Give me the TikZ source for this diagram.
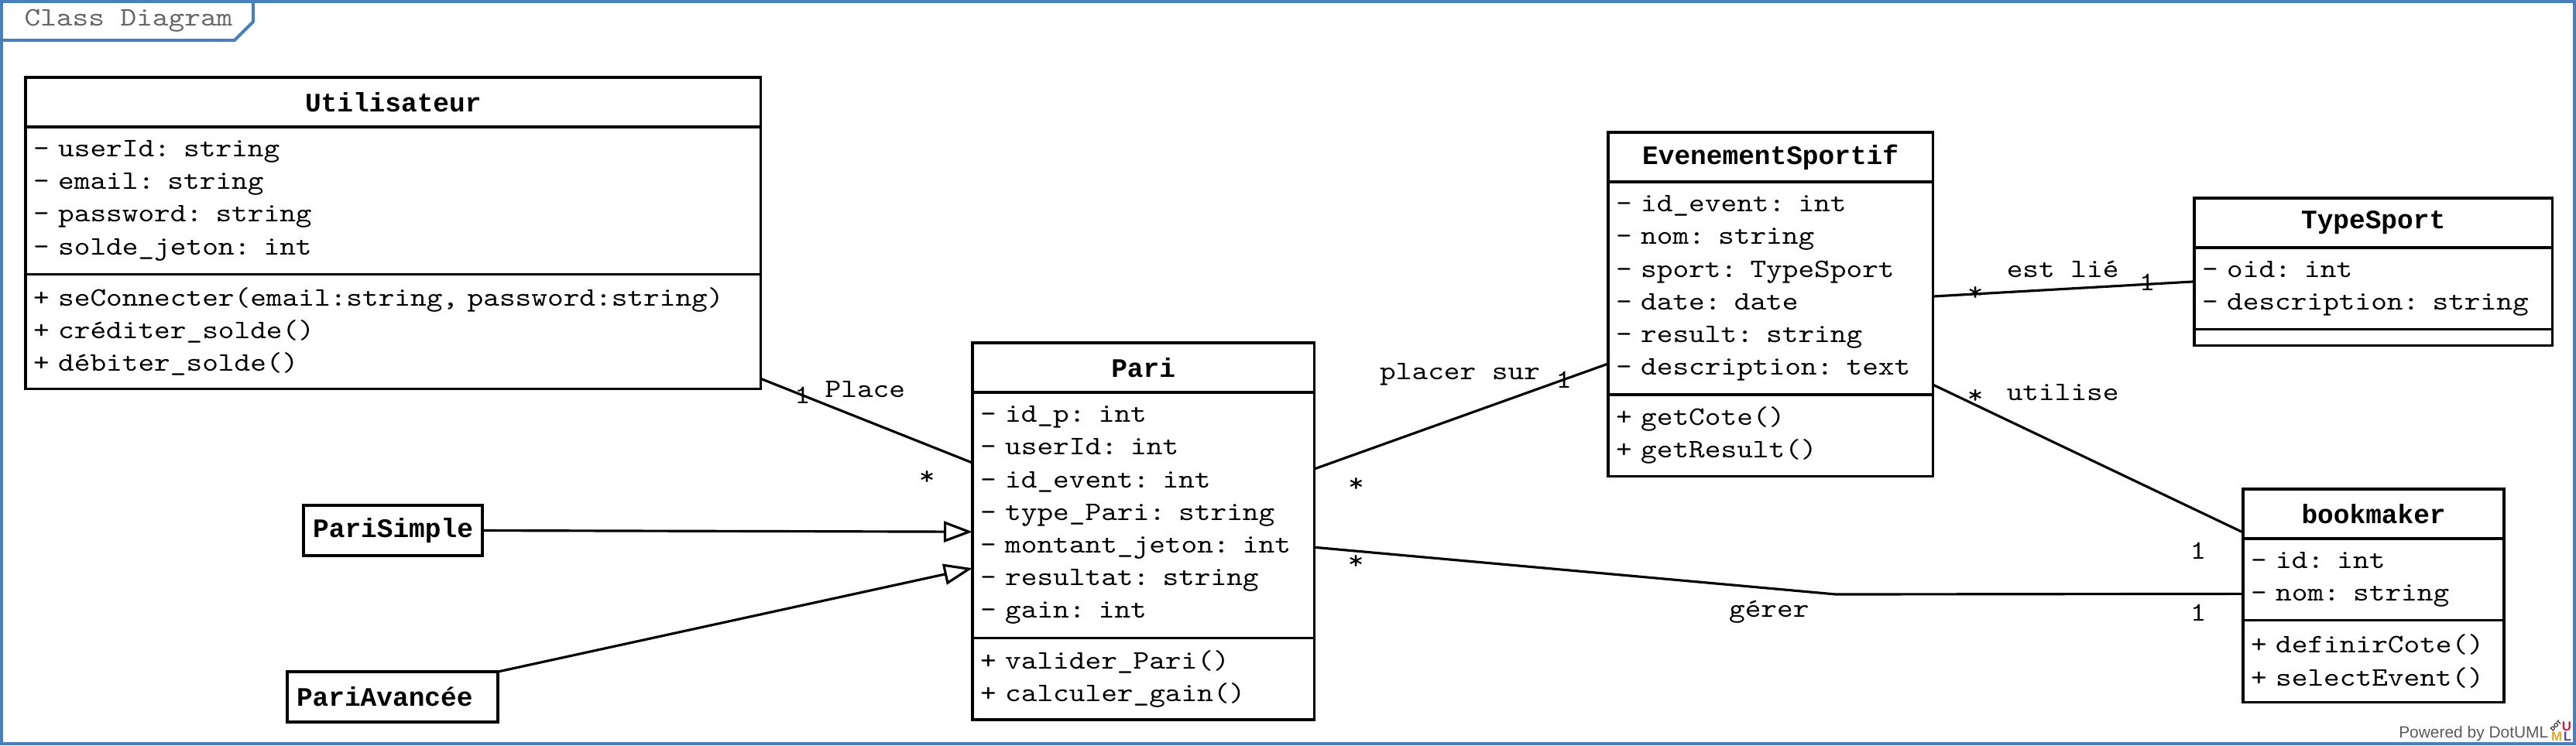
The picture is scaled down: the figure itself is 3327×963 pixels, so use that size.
\documentclass[tikz,border=0pt]{standalone}
\usepackage{fontspec}
\usepackage{xcolor}
\usepackage{tikz}
\usetikzlibrary{positioning, arrows.meta}

\newfontfamily\umlmono[FakeStretch=1.143]{lmmono10-regular.otf}
\newfontfamily\umlbold{Liberation Mono}
\newfontfamily\umlsans{Liberation Sans}
\definecolor{frameblue}{RGB}{74,128,186}

\begin{document}
\begin{tikzpicture}[
    x=0.01cm, y=-0.01cm,
    classhead/.style={draw, line width=1pt, outer sep=0pt, inner sep=0pt, minimum height=0.64cm, font=\umlbold\bfseries\fontsize{9.8}{12}\selectfont},
    classbody/.style={draw, line width=1pt, outer sep=0pt, inner xsep=0.1cm, inner ysep=0pt, align=left, font=\umlmono\fontsize{9.8}{12}\selectfont},
    assoc/.style={line width=0.9pt},
    inherit/.style={line width=0.9pt, -{Triangle[open, length=0.37cm, width=0.27cm]}},
    lbl/.style={inner sep=0pt, font=\umlmono\fontsize{9.8}{12}\selectfont},
    frame/.style={draw=frameblue, line width=0.04cm}
]
\useasboundingbox (0,0) rectangle (3327,963);

% Frame
\draw[frame] (2,2) rectangle (3325,961);
\draw[frame] (2,52) -- (303,52) -- (327,28) -- (327,2);
\node[lbl, text=black!60] (frame-title) at (166,27) {Class Diagram};

% Classes
\node[classhead, anchor=north west, minimum width=9.49cm] (util-h) at (33,100) {Utilisateur};
\node[classbody, below=0pt of util-h, text width=9.29cm, minimum height=1.902cm] (util-a) {- userId: string\\- email: string\\- password: string\\- solde\_jeton: int};
\node[classbody, below=0pt of util-a, text width=9.29cm, minimum height=1.479cm] (util-m) {+ seConnecter(email:string, password:string)\\+ créditer\_solde()\\+ débiter\_solde()};

\node[classhead, anchor=north west, minimum width=4.41cm] (pari-h) at (1256,443) {Pari};
\node[classbody, below=0pt of pari-h, text width=4.21cm, minimum height=3.171cm] (pari-a) {- id\_p: int\\- userId: int\\- id\_event: int\\- type\_Pari: string\\- montant\_jeton: int\\- resultat: string\\- gain: int};
\node[classbody, below=0pt of pari-a, text width=4.21cm, minimum height=1.056cm] (pari-m) {+ valider\_Pari()\\+ calculer\_gain()};

\node[classhead, anchor=north west, minimum width=4.19cm] (eve-h) at (2077,171) {EvenementSportif};
\node[classbody, below=0pt of eve-h, text width=3.99cm, minimum height=2.748cm] (eve-a) {- id\_event: int\\- nom: string\\- sport: TypeSport\\- date: date\\- result: string\\- description: text};
\node[classbody, below=0pt of eve-a, text width=3.99cm, minimum height=1.056cm] (eve-m) {+ getCote()\\+ getResult()};

\node[classhead, anchor=north west, minimum width=4.62cm] (ts-h) at (2834,256) {TypeSport};
\node[classbody, below=0pt of ts-h, text width=4.42cm, minimum height=1.056cm] (ts-a) {- oid: int\\- description: string};
\node[classbody, below=0pt of ts-a, minimum width=4.62cm, minimum height=0.21cm] (ts-m) {};

\node[classhead, anchor=north west, minimum width=3.37cm] (bk-h) at (2897,632) {bookmaker};
\node[classbody, below=0pt of bk-h, text width=3.17cm, minimum height=1.056cm] (bk-a) {- id: int\\- nom: string};
\node[classbody, below=0pt of bk-a, text width=3.17cm, minimum height=1.056cm] (bk-m) {+ definirCote()\\+ selectEvent()};

\node[classhead, anchor=north west, minimum width=2.31cm, minimum height=0.65cm] (simple) at (392,653) {PariSimple};
\node[classhead, anchor=north west, inner xsep=0.12cm, text width=2.48cm, align=left, minimum height=0.65cm] (avancee) at (371,868) {PariAvancée};

% Associations
\draw[assoc] ([yshift=0.13cm]util-m.south east) -- node[lbl, pos=0.197] (m-place-1) {1} node[lbl, pos=0.493, yshift=0.4cm] (lbl-place) {Place} node[lbl, pos=0.785, yshift=-0.43cm] (m-place-n) {*} ([yshift=-0.91cm]pari-a.north west);
\draw[assoc] ([yshift=-0.99cm]pari-a.north east) -- node[lbl, pos=0.143, yshift=-0.40cm] (m-placer-n) {*} node[lbl, pos=0.496, yshift=0.55cm] (lbl-placer) {placer sur} node[lbl, pos=0.849] (m-placer-1) {1} ([yshift=0.40cm]eve-a.south west);
\coordinate (bend-gerer) at (2371,768);
\draw[assoc] ([yshift=-0.415cm]pari-a.east) -- node[lbl, pos=0.08, yshift=-0.14cm] (m-gerer-n) {*} node[lbl, pos=0.872, yshift=-0.30cm] (lbl-gerer) {gérer} (bend-gerer) -- node[lbl, pos=0.89, yshift=-0.24cm] (m-gerer-1) {1} ([yshift=-0.185cm]bk-a.west);
\draw[assoc] ([yshift=-0.105cm]eve-a.east) -- node[lbl, pos=0.163] (m-lie-n) {*} node[lbl, pos=0.497, yshift=0.26cm] (lbl-lie) {est lié} node[lbl, pos=0.82, yshift=0.03cm] (m-lie-1) {1} ([yshift=0.09cm]ts-a.west);
\draw[assoc] ([yshift=0.13cm]eve-a.south east) -- node[lbl, pos=0.137, yshift=0.11cm] (m-utilise-n) {*} node[lbl, pos=0.419, yshift=0.70cm] (lbl-utilise) {utilise} node[lbl, pos=0.855, yshift=-0.51cm] (m-utilise-1) {1} ([yshift=0.08cm]bk-h.south west);

% Generalisations
\draw[inherit] (simple.east) -- ([yshift=-0.215cm]pari-a.west);
\draw[inherit] (avancee.north east) -- ([yshift=-0.685cm]pari-a.west);

% Footer
\node[anchor=east, inner sep=0pt, font=\umlsans\fontsize{5.95}{7}\selectfont, text=black!65] (powered) at (3292,948) {Powered by DotUML};
\node[inner sep=0pt, font=\umlsans\bfseries\fontsize{4.8}{5}\selectfont, text={rgb,255:red,200;green,30;blue,70}] (logo-u) at (3315,939) {U};
\node[inner sep=0pt, font=\umlsans\bfseries\fontsize{4.8}{5}\selectfont, text={rgb,255:red,220;green,170;blue,40}] (logo-m) at (3302,952) {M};
\node[inner sep=0pt, font=\umlsans\bfseries\fontsize{4.8}{5}\selectfont, text={rgb,255:red,90;green,70;blue,170}] (logo-l) at (3316,952) {L};
\node[inner sep=0pt, rotate=45, font=\umlsans\bfseries\fontsize{2.2}{3}\selectfont] (logo-dot) at (3301,938) {DOT};

\end{tikzpicture}
\end{document}
